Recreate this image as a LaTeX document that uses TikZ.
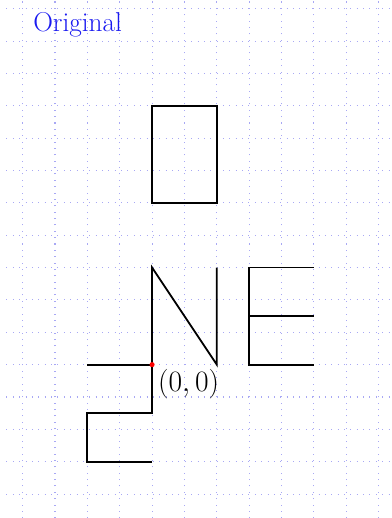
\documentclass[tikz,border=0pt]{standalone}
\usepackage{fix-cm}
\usepackage{tikz}
\usetikzlibrary{positioning}
\definecolor{azul}{HTML}{1A1AF0}
\definecolor{lilas}{HTML}{A8A8F4}

\begin{document}
\begin{tikzpicture}[font=\fontsize{24}{28}\selectfont,
  grade/.style={lilas, line width=0.9pt, dash pattern=on 0.9pt off 4.7pt},
  traco/.style={line width=1.6pt, line join=miter},
  ponto/.style={circle, fill=red, inner sep=0pt, minimum size=4.5pt}]
  \useasboundingbox (-4.70,-4.74) rectangle (7.39,11.27);
  \draw[grade] (-4.5,-4.75) grid (7.5,11.5);
  \node[azul] (tit) at (-2.3,10.5) {Original};
  % retangulo
  \draw[traco] (0,5) rectangle (2,8);
  % N
  \draw[traco] (0,0) -- (0,3) -- (2,0) -- (2,3);
  % E
  \draw[traco] (5,3) -- (3,3) -- (3,0) -- (5,0);
  \draw[traco] (3,1.5) -- (5,1.5);
  % traco de baixo
  \draw[traco] (-2,0) -- (0,0) -- (0,-1.5) -- (-2,-1.5) -- (-2,-3) -- (0,-3);
  \node[ponto] (o) at (0,0) {};
  \node[below right=-1pt and 0pt of o, font=\fontsize{26}{30}\selectfont] (lbl) {$(0,0)$};
\end{tikzpicture}
\end{document}
